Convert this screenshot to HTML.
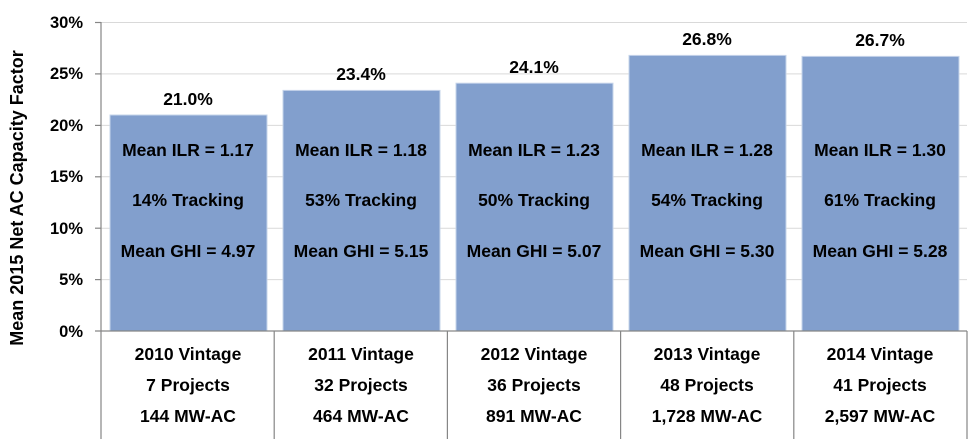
<!DOCTYPE html>
<html><head><style>body{margin:0;background:#fff}</style></head><body>
<svg width="975" height="439" xmlns="http://www.w3.org/2000/svg" font-family="Liberation Sans, sans-serif" font-weight="bold">
<g stroke="#d9d9d9" stroke-width="1">
<line x1="101" x2="967" y1="22.5" y2="22.5"/><line x1="101" x2="967" y1="73.9" y2="73.9"/><line x1="101" x2="967" y1="125.4" y2="125.4"/><line x1="101" x2="967" y1="176.8" y2="176.8"/><line x1="101" x2="967" y1="228.2" y2="228.2"/><line x1="101" x2="967" y1="279.6" y2="279.6"/>
</g>
<g fill="#829fcd" stroke="#c6d4ea" stroke-width="1">
<rect x="110" y="115" width="157" height="216"/>
<rect x="283" y="90.4" width="157" height="240.6"/>
<rect x="456" y="83.2" width="157" height="247.8"/>
<rect x="629" y="55.4" width="157" height="275.6"/>
<rect x="802" y="56.4" width="157" height="274.6"/>
</g>
<g stroke="#868686" stroke-width="1.2">
<line x1="101" x2="101" y1="22" y2="439"/>
<line x1="95" x2="967" y1="331" y2="331"/>
<line x1="95" x2="101" y1="22.5" y2="22.5"/><line x1="95" x2="101" y1="73.9" y2="73.9"/><line x1="95" x2="101" y1="125.4" y2="125.4"/><line x1="95" x2="101" y1="176.8" y2="176.8"/><line x1="95" x2="101" y1="228.2" y2="228.2"/><line x1="95" x2="101" y1="279.6" y2="279.6"/>
<line x1="274.2" x2="274.2" y1="331" y2="439"/><line x1="447.4" x2="447.4" y1="331" y2="439"/><line x1="620.6" x2="620.6" y1="331" y2="439"/><line x1="793.8" x2="793.8" y1="331" y2="439"/><line x1="967" x2="967" y1="331" y2="439"/>
</g>
<g font-size="16.5" text-anchor="end" fill="#000">
<text x="83" y="28">30%</text><text x="83" y="79">25%</text><text x="83" y="131">20%</text><text x="83" y="182">15%</text><text x="83" y="234">10%</text><text x="83" y="285">5%</text><text x="83" y="337">0%</text>
</g>
<text transform="translate(23,198) rotate(-90)" text-anchor="middle" font-size="18">Mean 2015 Net AC Capacity Factor</text>
<g font-size="17.5" text-anchor="middle" fill="#000">
<text x="188" y="105">21.0%</text><text x="361" y="80">23.4%</text><text x="534" y="73">24.1%</text><text x="707" y="45">26.8%</text><text x="880" y="46">26.7%</text>
<text x="188" y="156">Mean ILR = 1.17</text><text x="188" y="206">14% Tracking</text><text x="188" y="257">Mean GHI = 4.97</text>
<text x="361" y="156">Mean ILR = 1.18</text><text x="361" y="206">53% Tracking</text><text x="361" y="257">Mean GHI = 5.15</text>
<text x="534" y="156">Mean ILR = 1.23</text><text x="534" y="206">50% Tracking</text><text x="534" y="257">Mean GHI = 5.07</text>
<text x="707" y="156">Mean ILR = 1.28</text><text x="707" y="206">54% Tracking</text><text x="707" y="257">Mean GHI = 5.30</text>
<text x="880" y="156">Mean ILR = 1.30</text><text x="880" y="206">61% Tracking</text><text x="880" y="257">Mean GHI = 5.28</text>
<text x="188" y="360">2010 Vintage</text><text x="188" y="391">7 Projects</text><text x="188" y="422">144 MW-AC</text>
<text x="361" y="360">2011 Vintage</text><text x="361" y="391">32 Projects</text><text x="361" y="422">464 MW-AC</text>
<text x="534" y="360">2012 Vintage</text><text x="534" y="391">36 Projects</text><text x="534" y="422">891 MW-AC</text>
<text x="707" y="360">2013 Vintage</text><text x="707" y="391">48 Projects</text><text x="707" y="422">1,728 MW-AC</text>
<text x="880" y="360">2014 Vintage</text><text x="880" y="391">41 Projects</text><text x="880" y="422">2,597 MW-AC</text>
</g>
</svg>
</body></html>
